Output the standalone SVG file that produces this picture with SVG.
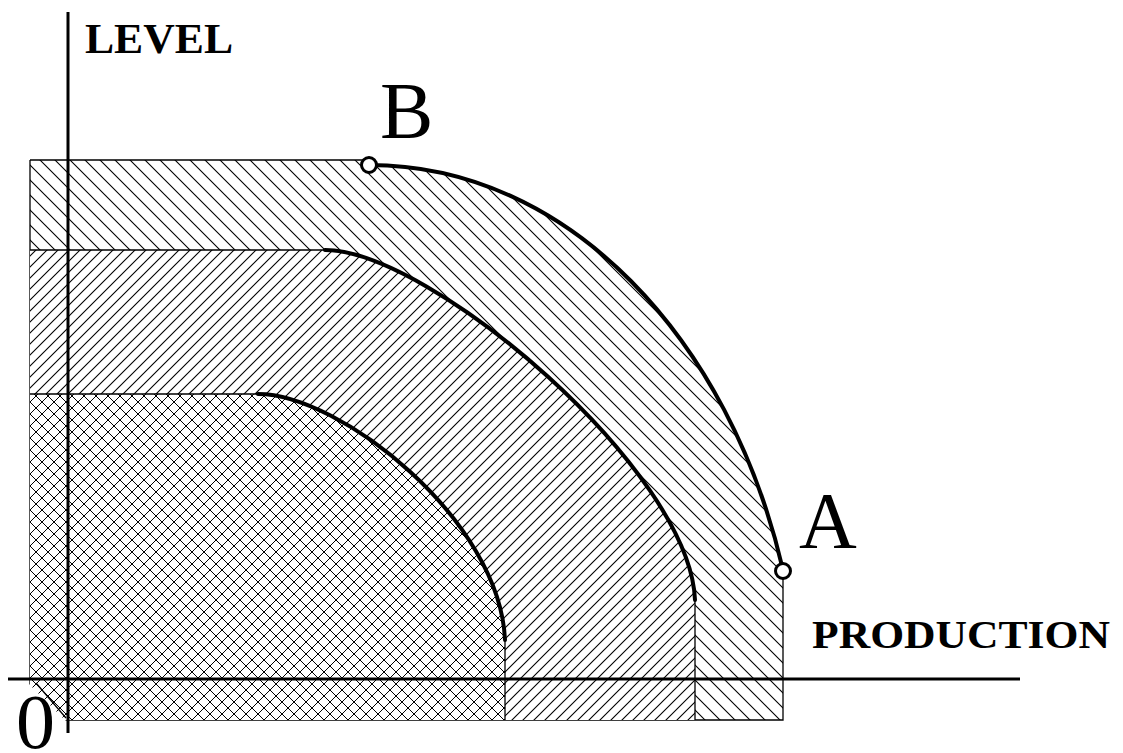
<svg xmlns="http://www.w3.org/2000/svg" width="1123" height="753" viewBox="0 0 1123 753">
<style>
.thin{fill:none;stroke:#000;stroke-width:1.3}
.curve{fill:none;stroke:#000;stroke-width:4;stroke-linecap:round}
.axis{fill:none;stroke:#000;stroke-width:3}
.lbl{font-family:"Liberation Serif","Times New Roman",serif;fill:#000}
.pt{fill:#fff;stroke:#000;stroke-width:3}
</style>
<defs>
<pattern id="back" patternUnits="userSpaceOnUse" width="15" height="15">
<path d="M-2,-2 L17,17 M-2,13 L2,17 M13,-2 L17,2" stroke="#000" stroke-width="1.1"/>
</pattern>
<pattern id="fwd" patternUnits="userSpaceOnUse" width="11" height="11">
<path d="M-2,13 L13,-2 M-2,2 L2,-2 M9,13 L13,9" stroke="#000" stroke-width="1.1"/>
</pattern>
<pattern id="cross" patternUnits="userSpaceOnUse" width="12" height="12">
<path d="M-2,-2 L14,14 M-2,10 L2,14 M10,-2 L14,2 M-2,14 L14,-2 M-2,2 L2,-2 M10,14 L14,10" stroke="#000" stroke-width="1"/>
</pattern>
</defs>

<g id="outer-region">
<path d="M30,160 H369 L369,165 C569,165 730,340 783,570 V720 H30 Z" fill="url(#back)"/>
<path class="thin" d="M30,160 H369 M783,570 V720 H30 V160"/>
<path class="curve" d="M369,165 C569,165 730,340 783,570"/>
</g>

<g id="middle-region">
<path d="M30,250 H325 C430,250 690,470 695,600 V720 H30 Z" fill="#fff"/>
<path d="M30,250 H325 C430,250 690,470 695,600 V720 H30 Z" fill="url(#fwd)"/>
<path class="thin" d="M30,250 H325 M695,600 V720"/>
<path class="curve" d="M325,250 C430,250 690,470 695,600"/>
</g>

<g id="inner-region">
<path d="M30,394 H258 C340,394 500,520 505,640 V720 H30 Z" fill="#fff"/>
<path d="M30,394 H258 C340,394 500,520 505,640 V720 H30 Z" fill="url(#cross)"/>
<path class="thin" d="M30,394 H258 M505,640 V720"/>
<path class="curve" d="M258,394 C340,394 500,520 505,640"/>
</g>

<g id="corner-cut">
<path d="M28,683 L66,721 L28,723 Z" fill="#fff"/>
<path class="thin" d="M36,683 L66,718"/>
</g>

<g id="connectors">
<line class="axis" x1="68" y1="12" x2="68" y2="733"/>
<line class="axis" x1="8" y1="679" x2="1020" y2="679"/>
</g>

<g id="point-B">
<circle class="pt" cx="369" cy="165" r="7.5"/>
<text class="lbl" x="380" y="138" font-size="80">B</text>
</g>
<g id="point-A">
<circle class="pt" cx="783" cy="571" r="7.5"/>
<text class="lbl" x="799" y="548" font-size="80">A</text>
</g>

<g id="labels">
<text class="lbl" x="85" y="53" font-size="43" font-weight="bold" textLength="148" lengthAdjust="spacingAndGlyphs">LEVEL</text>
<text class="lbl" x="812" y="648" font-size="40" font-weight="bold" textLength="298" lengthAdjust="spacingAndGlyphs">PRODUCTION</text>
<text class="lbl" x="16" y="748" font-size="78">0</text>
</g>
</svg>
